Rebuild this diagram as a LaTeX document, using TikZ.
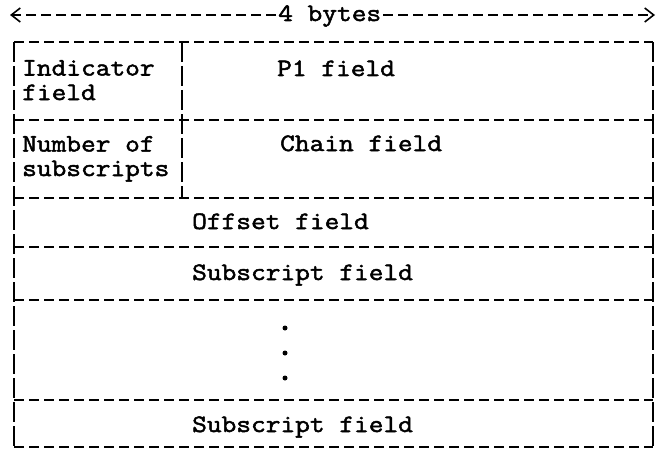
\documentclass[tikz,border=0pt]{standalone}
\usepackage{fontspec}
\setmonofont{Latin Modern Mono}[FakeStretch=1.143, FakeBold=2]
\usetikzlibrary{arrows.meta}
\begin{document}
\begin{tikzpicture}[x=1pt,y=-1pt,
  txt/.style={font=\ttfamily\fontsize{25}{24.5}\selectfont, inner sep=0pt, anchor=base west, align=left},
  hline/.style={line width=1.8pt, dash pattern=on 10pt off 5pt},
  vline/.style={line width=2.2pt, dash pattern=on 20pt off 4pt},
  dot/.style={circle, fill, inner sep=0pt, minimum size=5pt},
  tip/.style={-{Straight Barb[length=9pt,width=14pt,line width=1.6pt]}},
]
\useasboundingbox (0,0) rectangle (659,452);
% top dimension arrow
\node[txt] (bytes) at (278,21) {4 bytes};
\coordinate (aL) at (10,15);
\coordinate (aR) at (655,15);
\draw[hline,tip] ([xshift=-2pt]bytes.west |- aL) -- (aL);
\draw[hline,tip] ([xshift=2pt]bytes.east |- aR) -- (aR);
% frame corners
\coordinate (tl) at (14,42);
\coordinate (tr) at (653,42);
\coordinate (bl) at (14,447);
\coordinate (br) at (653,447);
\coordinate (dt) at (182,42);
\coordinate (db) at (182,198);
% horizontal rules
\foreach \y in {42,120,198,247,300,400,447}
  \draw[hline] (14,\y) -- (653,\y);
% vertical rules
\draw[vline] (tl) -- (bl);
\draw[vline] (tr) -- (br);
\draw[vline] (dt) -- (db);
% texts (base anchor = last line's baseline)
\node[txt] (ind) at (22,100) {Indicator\\field};
\node[txt] (p1) at (277,76) {P1 field};
\node[txt] (num) at (22,176) {Number of\\subscripts};
\node[txt] (chain) at (280,151) {Chain field};
\node[txt] (off) at (192,229) {Offset field};
\node[txt] (sub1) at (192,280) {Subscript field};
\node[dot] (d1) at (285,328) {};
\node[dot] (d2) at (285,353) {};
\node[dot] (d3) at (285,378) {};
\node[txt] (sub2) at (192,432) {Subscript field};
\end{tikzpicture}
\end{document}
